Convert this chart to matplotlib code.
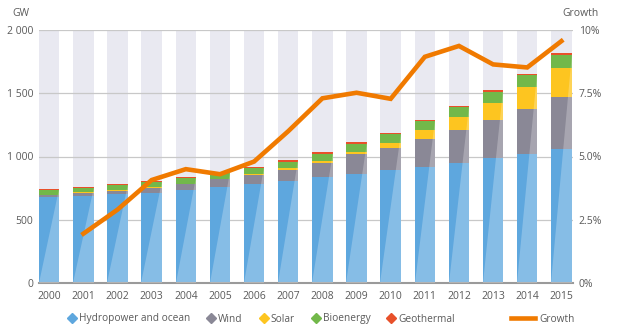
import numpy as np
import matplotlib
matplotlib.use("Agg")
import matplotlib.pyplot as plt
from matplotlib.lines import Line2D
from matplotlib.patches import Polygon

plt.rcParams['font.family'] = ['Open Sans', 'DejaVu Sans']

years = list(range(2000, 2016))
# installed capacity, GW
hydro = [680, 690, 700, 715, 735, 760, 780, 805, 835, 865, 890, 915, 945, 985, 1022, 1060]
wind = [17, 24, 31, 39, 47, 59, 74, 92, 115, 151, 180, 220, 267, 302, 350, 414]
solar = [1.3, 1.6, 2, 2.6, 3.8, 5, 6.7, 9, 16, 23, 38, 71, 100, 137, 178, 224]
bio = [35, 36, 38, 40, 43, 47, 50, 53, 57, 62, 66, 72, 79, 87, 93, 104]
geo = [8, 8.2, 8.5, 8.7, 8.8, 9, 9.3, 9.7, 10, 10.5, 10.6, 10.8, 11.2, 11.5, 12.3, 13]
# annual growth, %
growth = [np.nan, 1.95, 2.9, 4.07, 4.5, 4.3, 4.8, 6.0, 7.3, 7.52, 7.28, 8.94, 9.37, 8.64, 8.52, 9.56]

series = [
    ("Hydropower and ocean", hydro, "#5ea7de"),
    ("Wind", wind, "#8a8896"),
    ("Solar", solar, "#fdc520"),
    ("Bioenergy", bio, "#72b84a"),
    ("Geothermal", geo, "#e8502a"),
]

grey_text = "#5a5a5a"
fig = plt.figure(figsize=(6.19, 3.33), dpi=100)
ax = fig.add_axes([39 / 619, 1 - 283 / 333, 534 / 619, 253 / 333])

x = np.arange(len(years))
w = 0.6

# pale columns behind each bar
ax.bar(x, 2000, width=w, color="#e9e9f1", zorder=0)
for v in (500, 1000, 1500, 2000):
    ax.axhline(v, color="#c8c8c8", lw=0.9, zorder=1)

bottom = np.zeros(len(years))
for name, vals, col in series:
    ax.bar(x, vals, width=w, bottom=bottom, color=col, zorder=2)
    bottom += np.array(vals)

# light diagonal sheen across each stacked bar
for xi, tot in zip(x, bottom):
    tri = Polygon([(xi - w / 2, 0), (xi + w / 2, 0), (xi + w / 2, tot)],
                  closed=True, facecolor="white", alpha=0.25, lw=0, zorder=3)
    ax.add_patch(tri)

ax.set_xlim(-w / 2, len(years) - 1 + w / 2 + 0.04)
ax.set_ylim(0, 2000)
ax.set_yticks([0, 500, 1000, 1500, 2000])
ax.set_yticklabels(["0", "500", "1 000", "1 500", "2 000"])
ax.set_xticks(x)
ax.set_xticklabels([str(y) for y in years])
for s in ("top", "left", "right"):
    ax.spines[s].set_visible(False)
ax.spines["bottom"].set_color("#9a9a9a")
ax.spines["bottom"].set_linewidth(1.5)
ax.tick_params(length=0, labelsize=7.5, colors=grey_text, pad=4)
ax.tick_params(axis="x", pad=6)

ax2 = ax.twinx()
ax2.plot(x, growth, color="#f07a00", lw=3.3, solid_joinstyle="miter", zorder=5)
ax2.set_ylim(0, 10)
ax2.set_yticks([0, 2.5, 5, 7.5, 10])
ax2.set_yticklabels(["0%", "2.5%", "5.0%", "7.5%", "10%"])
for s in ax2.spines.values():
    s.set_visible(False)
ax2.tick_params(length=0, labelsize=7.5, colors=grey_text, pad=4)

fig.text(12 / 619, 1 - 13 / 333, "GW", fontsize=7.5, color=grey_text, va="center")
fig.text(562 / 619, 1 - 13 / 333, "Growth", fontsize=7.5, color=grey_text, va="center")

handles = [Line2D([], [], marker="D", ls="none", color=col, markersize=5.5)
           for _, _, col in series]
fig.legend(handles, [n for n, _, _ in series], loc="center",
           bbox_to_anchor=(261 / 619, 1 - 319 / 333), ncol=5, frameon=False,
           fontsize=7.3, labelcolor=grey_text, handletextpad=0.2,
           columnspacing=1.55, handlelength=1.0)
fig.legend([Line2D([], [], color="#f07a00", lw=3.3)], ["Growth"], loc="center",
           bbox_to_anchor=(543 / 619, 1 - 319 / 333), frameon=False,
           fontsize=7.3, labelcolor=grey_text, handlelength=2.4, handletextpad=0.4)

fig.savefig("out.png", dpi=100)
